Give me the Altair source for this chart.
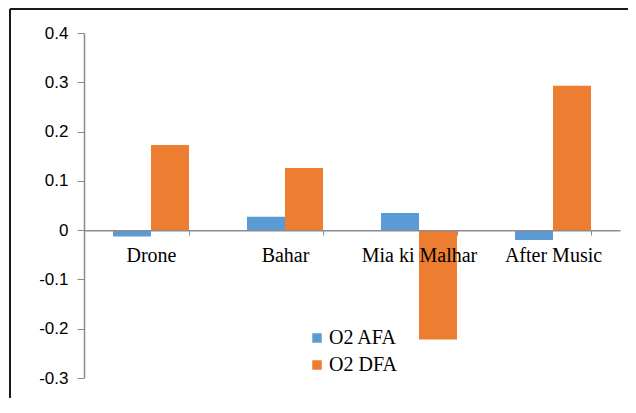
import altair as alt
import pandas as pd

categories = ["Drone", "Bahar", "Mia ki Malhar", "After Music"]
series_names = ["O2 AFA", "O2 DFA"]
afa_values = [-0.013, 0.027, 0.035, -0.020]
dfa_values = [0.173, 0.126, -0.222, 0.293]
colors = ["#5B9BD5", "#ED7D31"]

rows = []
for c, a, d in zip(categories, afa_values, dfa_values):
    rows.append({"category": c, "series": series_names[0], "value": a})
    rows.append({"category": c, "series": series_names[1], "value": d})
df = pd.DataFrame(rows)

W, H = 536, 345
ymin, ymax = -0.3, 0.4
zero_offset = -H * (0 - ymin) / (ymax - ymin)

bars = alt.Chart(df).mark_bar().encode(
    x=alt.X(
        "category:N",
        sort=categories,
        scale=alt.Scale(paddingInner=0.433, paddingOuter=0.2165),
        axis=alt.Axis(
            title=None,
            orient="bottom",
            offset=zero_offset,
            labelAngle=0,
            labelFont="Liberation Serif",
            labelFontSize=20,
            labelColor="#000000",
            labelPadding=10,
            tickBand="extent",
            tickSize=5,
            tickColor="#8c8c8c",
            domainColor="#8c8c8c",
            domainWidth=1.5,
            zindex=1,
        ),
    ),
    xOffset=alt.XOffset("series:N", sort=series_names),
    y=alt.Y(
        "value:Q",
        scale=alt.Scale(domain=[ymin, ymax], nice=False, zero=False),
        axis=alt.Axis(
            title=None,
            values=[-0.3, -0.2, -0.1, 0, 0.1, 0.2, 0.3, 0.4],
            labelExpr="datum.value == 0 ? '0' : toString(round(datum.value * 10) / 10)",
            labelFont="Liberation Sans",
            labelFontSize=17,
            labelColor="#000000",
            labelPadding=9,
            tickSize=7,
            tickColor="#8c8c8c",
            domainColor="#8c8c8c",
            domainWidth=1.5,
            grid=False,
        ),
    ),
    color=alt.Color(
        "series:N",
        sort=series_names,
        scale=alt.Scale(domain=series_names, range=colors),
        legend=alt.Legend(
            title=None,
            orient="none",
            legendX=223,
            legendY=295,
            symbolType="square",
            symbolSize=90,
            symbolStrokeWidth=0,
            labelFont="Liberation Serif",
            labelFontSize=20,
            labelColor="#000000",
            labelOffset=2,
            rowPadding=7,
        ),
    ),
)

frame_df = pd.DataFrame({"k": [0]})
frame_top = alt.Chart(frame_df).mark_rule(color="#1a1a1a", strokeWidth=2).encode(
    x=alt.value(-74), x2=alt.value(W + 30), y=alt.value(-24)
)
frame_left = alt.Chart(frame_df).mark_rule(color="#1a1a1a", strokeWidth=2).encode(
    x=alt.value(-74), y=alt.value(-24), y2=alt.value(H + 60)
)

chart = (
    alt.layer(bars, frame_top, frame_left)
    .properties(
        width=W,
        height=H,
        autosize=alt.AutoSizeParams(type="none"),
        padding={"left": 76, "top": 25, "right": 8, "bottom": 20},
    )
    .configure_view(stroke=None)
)

chart.save("out.html", embed_options={"renderer": "svg", "actions": False})
